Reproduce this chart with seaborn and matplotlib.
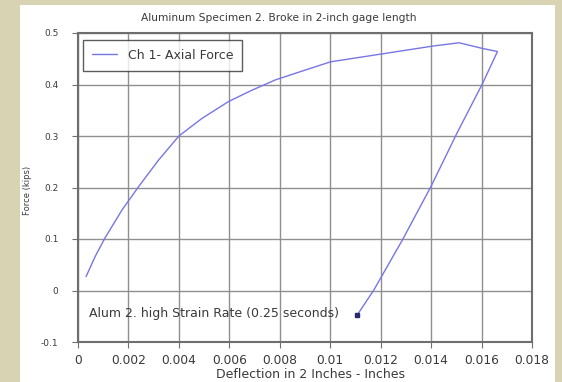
import matplotlib
matplotlib.use("Agg")
import matplotlib.pyplot as plt
from matplotlib.patches import Rectangle
from matplotlib.ticker import FuncFormatter
import seaborn as sns
import pandas as pd

# Load path of the specimen: deflection (in) and axial force (kips)
deflection = [0.00032, 0.00068, 0.00107, 0.00174, 0.0024, 0.00319, 0.0040,
              0.00491, 0.00597, 0.0069, 0.00783, 0.00882, 0.01001, 0.0120,
              0.01412, 0.01511, 0.01604, 0.01663, 0.01604, 0.01504,
              0.01399, 0.01286, 0.01173, 0.01107]
force = [0.027, 0.066, 0.102, 0.156, 0.2015, 0.253, 0.300,
         0.334, 0.367, 0.389, 0.409, 0.425, 0.444, 0.459,
         0.475, 0.481, 0.470, 0.464, 0.402, 0.307,
         0.2015, 0.098, 0.001, -0.0476]

x_ticks = [0, 0.002, 0.004, 0.006, 0.008, 0.01, 0.012, 0.014, 0.016, 0.018]
y_ticks = [-0.1, 0, 0.1, 0.2, 0.3, 0.4, 0.5]

df = pd.DataFrame({"Deflection": deflection, "Force": force,
                   "Channel": "Ch 1- Axial Force"})

sns.set_style("white")
plt.rcParams["font.family"] = ["DejaVu Sans"]

line_color = "#7676e4"
grid_color = "#8f8f8f"
text_color = "#3a3a3a"

fig = plt.figure(figsize=(5.62, 3.82), dpi=100, facecolor="#d8d4b3")
fig.patches.append(Rectangle((20 / 562, 0), (555 - 20) / 562, (382 - 5) / 382,
                             transform=fig.transFigure, facecolor="white",
                             edgecolor="none", zorder=-10))

ax = fig.add_axes([78 / 562, 40 / 382, (532 - 78) / 562, (342 - 33) / 382])
ax.set_facecolor("white")

sns.lineplot(data=df, x="Deflection", y="Force", hue="Channel", sort=False,
             estimator=None, palette=[line_color], linewidth=1.0, ax=ax)
ax.plot(deflection[-1:], force[-1:], marker="s", markersize=3,
        color="#2a2a70", linestyle="none")

ax.set_xlim(0, 0.018)
ax.set_ylim(-0.1, 0.5)
ax.set_xticks(x_ticks)
ax.set_yticks(y_ticks)
fmt = FuncFormatter(lambda v, p: f"{v:g}")
ax.xaxis.set_major_formatter(fmt)
ax.yaxis.set_major_formatter(fmt)

ax.grid(True, color=grid_color, linewidth=1.0)
ax.set_axisbelow(True)
for s in ax.spines.values():
    s.set_color("#6e6e6e")
    s.set_linewidth(1.5)
ax.tick_params(axis="both", which="major", length=4, width=0.8,
               color="#6e6e6e", labelcolor=text_color, direction="out")
ax.tick_params(axis="x", labelsize=8.8, pad=5)
ax.tick_params(axis="y", labelsize=6.5, pad=10)
ax.tick_params(bottom=True, left=True)

ax.set_xlabel("Deflection in 2 Inches - Inches", fontsize=9,
              color=text_color, labelpad=0)
ax.xaxis.set_label_coords((310 - 78) / 454, -0.085)
ax.set_ylabel("Force (kips)", fontsize=6, color=text_color)
ax.yaxis.set_label_coords((32 - 78) / 454, 0.49)
fig.text(279 / 562, 1 - 18 / 382,
         "Aluminum Specimen 2. Broke in 2-inch gage length",
         fontsize=7.7, color=text_color, ha="center", va="center")

leg = ax.legend(loc="upper left", frameon=True, fancybox=False, fontsize=9,
                handlelength=2.0, handletextpad=0.9, borderpad=0.7,
                borderaxespad=0.0,
                bbox_to_anchor=((83 - 78) / 454, (342 - 40) / 309))
leg.get_frame().set_edgecolor("#333333")
leg.get_frame().set_linewidth(1.0)
for t in leg.get_texts():
    t.set_color(text_color)
    t.set_text("Ch 1- Axial Force")

ax.text(0.00042, -0.045, "Alum 2. high Strain Rate (0.25 seconds)",
        fontsize=9, color=text_color, va="center", ha="left")

fig.savefig("out.png", dpi=100, facecolor=fig.get_facecolor())
